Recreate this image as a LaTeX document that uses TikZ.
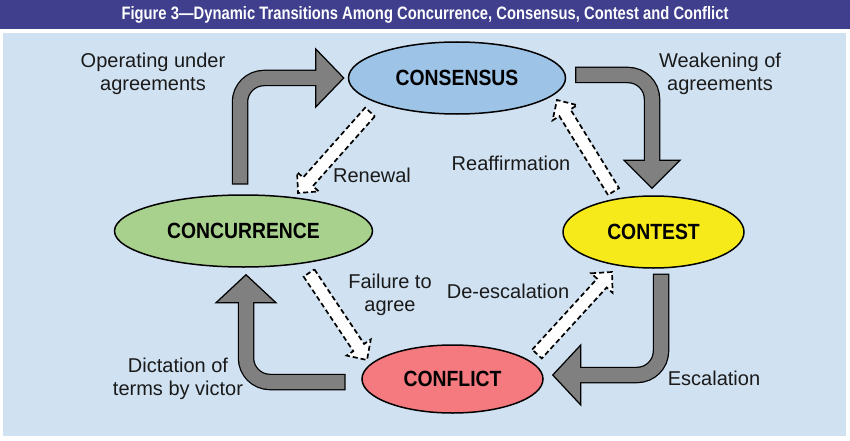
\documentclass[tikz,border=0pt]{standalone}
\usepackage{fontspec}
\setmainfont{Liberation Sans}
\newfontfamily\condfont{Liberation Sans}[FakeStretch=0.88]
\newfontfamily\titlefont{Liberation Sans}[FakeStretch=0.82]
\usetikzlibrary{shapes.geometric,calc}
\definecolor{titlebg}{HTML}{3F3F8E}
\definecolor{panelbg}{HTML}{D0E1F1}
\definecolor{cblue}{HTML}{9DC3E6}
\definecolor{cgreen}{HTML}{A9D18E}
\definecolor{cyellow}{HTML}{F7EA1B}
\definecolor{cred}{HTML}{F47A80}
\definecolor{agray}{HTML}{808080}
\definecolor{txt}{HTML}{1A1A1A}
\tikzset{
  ell/.style={ellipse, draw=black, line width=1.5pt, inner sep=0pt,
    font=\condfont\bfseries\fontsize{22}{24}\selectfont, text=black},
  lbl/.style={font=\fontsize{20}{23}\selectfont, text=txt, align=center, inner sep=0pt},
  ttl/.style={font=\titlefont\bfseries\fontsize{18}{20}\selectfont, text=white, inner sep=0pt},
  dashbox/.style={fill=white, draw=black, line width=1.7pt, dash pattern=on 5pt off 3pt, line join=miter},
}
% gray block arrow: tail, corner, tip, half head width
\newcommand{\grayarrow}[4]{%
  \coordinate (gb) at ($(#3)!28pt!(#2)$);
  \draw[black, line width=16.5pt, rounded corners=24pt] ($(#1)!-1.25pt!(#2)$) -- (#2) -- (gb);
  \filldraw[fill=agray, draw=black, line width=1.25pt, line join=miter]
     ($(gb)!#4!90:(#3)$) -- (#3) -- ($(gb)!#4!-90:(#3)$) -- cycle;
  \draw[agray, line width=14pt, rounded corners=24pt] (#1) -- (#2) -- ($(gb)!-1.5pt!(#2)$);
}
% dashed white block arrow: tail, tip
\newcommand{\whitearrow}[2]{%
  \coordinate (db) at ($(#2)!15pt!(#1)$);
  \path[dashbox] ($(#1)!6.5pt!90:(#2)$) -- ($(db)!6.5pt!90:(#2)$) -- ($(db)!14.5pt!90:(#2)$)
     -- (#2) -- ($(db)!14.5pt!-90:(#2)$) -- ($(db)!6.5pt!-90:(#2)$) -- ($(#1)!6.5pt!-90:(#2)$) -- cycle;
}
\begin{document}
\begin{tikzpicture}[x=1pt,y=-1pt]
\useasboundingbox (0,0) rectangle (850,441);
\fill[white] (0,0) rectangle (850,441);
\fill[titlebg] (0,0) rectangle (850,29);
\fill[panelbg] (3,33) rectangle (846,436);
\node[ttl] (title) at (425,15) {Figure 3—Dynamic Transitions Among Concurrence, Consensus, Contest and Conflict};

% states
\node[ell, fill=cblue, minimum width=217pt, minimum height=72pt] (consensus) at (457,78) {CONSENSUS};
\node[ell, fill=cgreen, minimum width=258pt, minimum height=72pt] (concurrence) at (243.5,231) {CONCURRENCE};
\node[ell, fill=cyellow, minimum width=181pt, minimum height=72pt] (contest) at (653.5,232) {CONTEST};
\node[ell, fill=cred, minimum width=181pt, minimum height=68pt] (conflict) at (452.5,379) {CONFLICT};

% gray transitions
\coordinate (opT) at ($(concurrence.north)+(-3.5,-11)$);
\coordinate (opC) at ($(opT|-consensus.west)$);
\coordinate (opP) at ($(consensus.west)+(-4,0)$);
\grayarrow{opT}{opC}{opP}{29pt}

\coordinate (wkT) at ($(consensus.east)+(10,-3)$);
\coordinate (wkP) at ($(contest.north)+(-1.5,-7)$);
\coordinate (wkC) at ($(wkP|-wkT)$);
\grayarrow{wkT}{wkC}{wkP}{28pt}

\coordinate (esT) at ($(contest.south)+(7.5,6)$);
\coordinate (esP) at ($(conflict.east)+(9,-4)$);
\coordinate (esC) at ($(esT|-esP)$);
\grayarrow{esT}{esC}{esP}{30pt}

\coordinate (diT) at ($(conflict.west)+(-17,3)$);
\coordinate (diP) at ($(concurrence.south)+(2.5,7)$);
\coordinate (diC) at ($(diP|-diT)$);
\grayarrow{diT}{diC}{diP}{30pt}

% dashed transitions
\coordinate (reT) at (370,112);
\coordinate (reP) at (298,193);
\whitearrow{reT}{reP}
\coordinate (rfT) at (613.5,191.5);
\coordinate (rfP) at (557,100);
\whitearrow{rfT}{rfP}
\coordinate (faT) at (309,273);
\coordinate (faP) at (367,360);
\whitearrow{faT}{faP}
\coordinate (deT) at (537,354);
\coordinate (deP) at (612,272);
\whitearrow{deT}{deP}

% labels
\node[lbl] (lop) at (153,73.5) {Operating under\\agreements};
\node[lbl] (lwk) at (720,73.5) {Weakening of\\agreements};
\node[lbl] (lre) at (372,175) {Renewal};
\node[lbl] (lrf) at (511,163) {Reaffirmation};
\node[lbl] (lfa) at (390,295) {Failure to\\agree};
\node[lbl] (lde) at (508,291) {De-escalation};
\node[lbl] (ldi) at (178,378.5) {Dictation of\\terms by victor};
\node[lbl] (les) at (714,378) {Escalation};
\end{tikzpicture}
\end{document}
